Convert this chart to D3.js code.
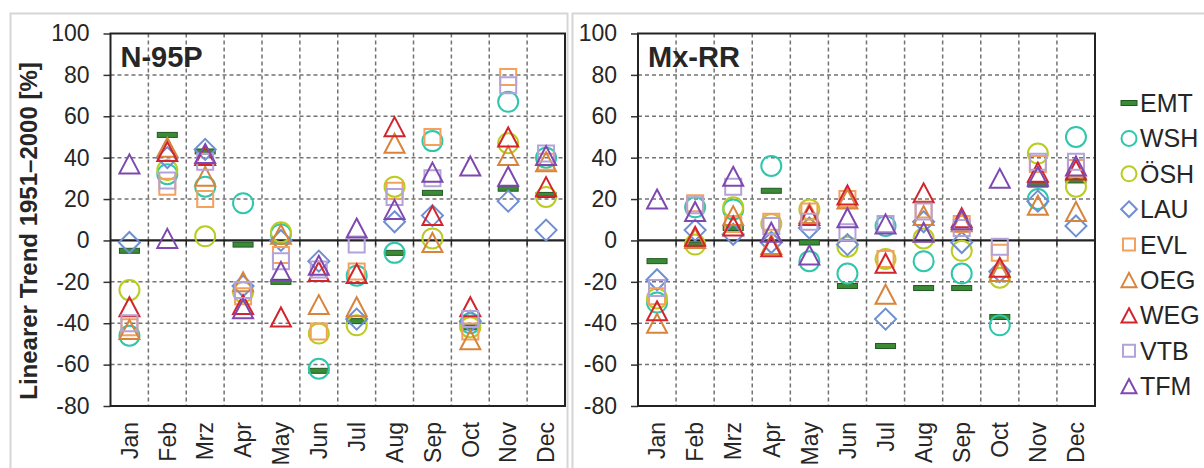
<!DOCTYPE html>
<html>
<head>
<meta charset="utf-8">
<script src="https://cdn.jsdelivr.net/npm/d3@7"></script>
<style>
  body { margin: 0; background: #fff; }
  svg { display: block; }
  text { font-family: "Liberation Sans", Arial, sans-serif; fill: #262626; }
</style>
</head>
<body>
<svg id="chart" width="1204" height="468"></svg>
<script>
// Month categories and y-axis ticks
const months = ["Jan", "Feb", "Mrz", "Apr", "May", "Jun", "Jul", "Aug", "Sep", "Oct", "Nov", "Dec"];
const yTicks = [-80, -60, -40, -20, 0, 20, 40, 60, 80, 100];

// Station series (legend order)
const seriesNames  = ["EMT", "WSH", "ÖSH", "LAU", "EVL", "OEG", "WEG", "VTB", "TFM"];
const seriesColors = ["#3b8a35", "#2fc6aa", "#b9cc22", "#6f8fd2", "#f4a15e", "#d8843c", "#d3242c", "#b3a3d8", "#7f48b0"];
const seriesShapes = ["dash", "circle", "circle", "diamond", "square", "triangle", "triangle", "square", "triangle"];

// N-95P: linear trend 1951-2000 [%] per month
const n95pEMT = [-5, 51, 43, -2, -20, -63, -39, -6, 23, -42, 25, 22];
const n95pWSH = [-46, 32, 26, 18, 3, -62, -17, -6, 48, -40, 67, 40];
const n95pOSH = [-24, 34, 2, -25, 4, -45, -41, 26, 1, -42, 47, 21];
const n95pLAU = [-1, 40, 44, -22, 0, -10, -38, 9, 12, -39, 19, 5];
const n95pEVL = [-42, 26, 20, -27, -7, -44, -15, 24, 50, -44, 79, 38];
const n95pOEG = [-43, 45, 31, -20, 3, -31, -32, 47, -1, -48, 41, 38];
const n95pWEG = [-32, 43, 41, -31, -37, -15, -16, 55, 12, -32, 50, 26];
const n95pVTB = [-40, 29, 38, -24, -10, -14, -2, 21, 30, -38, 75, 42];
const n95pTFM = [37, 1, 42, -33, -15, -12, 6, 15, 33, 36, 31, 41];

// Mx-RR: linear trend 1951-2000 [%] per month
const mxrrEMT = [-10, -2, 6, 24, -1, -22, -51, -23, -23, -37, 27, 29];
const mxrrWSH = [-30, 16, 15, 36, -10, -16, 7, -10, -16, -41, 20, 50];
const mxrrOSH = [-28, -2, 16, 8, 15, -3, -9, 1, -5, -18, 42, 26];
const mxrrLAU = [-19, 5, 3, -1, 6, -2, -38, 9, -1, -15, 19, 7];
const mxrrEVL = [-27, 18, 8, 9, 14, 20, -9, 15, 8, -6, 37, 35];
const mxrrOEG = [-40, 1, 12, -2, 13, 20, -26, 12, 9, -15, 17, 14];
const mxrrWEG = [-34, 2, 7, -3, 12, 22, -11, 23, 11, -13, 33, 34];
const mxrrVTB = [-23, 17, 26, 7, 9, 4, 8, 14, 6, -3, 38, 38];
const mxrrTFM = [20, 14, 31, 4, -7, 11, 8, 4, 10, 30, 31, 36];

const panels = [
  { title: "N-95P", left: 110.5, right: 565,
    series: [n95pEMT, n95pWSH, n95pOSH, n95pLAU, n95pEVL, n95pOEG, n95pWEG, n95pVTB, n95pTFM] },
  { title: "Mx-RR", left: 638, right: 1095,
    series: [mxrrEMT, mxrrWSH, mxrrOSH, mxrrLAU, mxrrEVL, mxrrOEG, mxrrWEG, mxrrVTB, mxrrTFM] }
];

const plotTop = 33.5, plotBottom = 406;
const svg = d3.select("#chart");

// Chart-area frames
svg.append("rect").attr("x", 10.5).attr("y", 13.5).attr("width", 557).attr("height", 480)
  .attr("fill", "none").attr("stroke", "#d6d6d6").attr("stroke-width", 2);
svg.append("rect").attr("x", 572.5).attr("y", 13.5).attr("width", 700).attr("height", 480)
  .attr("fill", "none").attr("stroke", "#d6d6d6").attr("stroke-width", 2);

// Marker outline paths, centred on (0,0)
function markerPath(shape, k) {
  const p = d3.path();
  if (shape === "circle") {
    const r = 10 * k; p.moveTo(r, 0); p.arc(0, 0, r, 0, 2 * Math.PI);
  } else if (shape === "square") {
    const h = 8 * k; p.rect(-h, -h, 2 * h, 2 * h);
  } else if (shape === "diamond") {
    const h = 10.5 * k; p.moveTo(0, -h); p.lineTo(h, 0); p.lineTo(0, h); p.lineTo(-h, 0); p.closePath();
  } else if (shape === "triangle") {
    const w = 10 * k, h = 9.5 * k; p.moveTo(0, -h); p.lineTo(w, h); p.lineTo(-w, h); p.closePath();
  }
  return p.toString();
}

function drawMarker(g, shape, color, k) {
  if (shape === "dash") {
    g.append("rect").attr("x", -10 * k).attr("y", -2.5).attr("width", 20 * k).attr("height", 5)
      .attr("fill", color).attr("stroke", "#1f5a22").attr("stroke-width", 1);
  } else {
    g.append("path").attr("d", markerPath(shape, k))
      .attr("fill", "none").attr("stroke", color).attr("stroke-width", 2);
  }
}

panels.forEach(pn => {
  const x = d3.scaleBand().domain(months).range([pn.left, pn.right]).paddingInner(0).paddingOuter(0);
  const y = d3.scaleLinear().domain([-80, 100]).range([plotBottom, plotTop]);
  const g = svg.append("g");

  // Horizontal grid
  g.selectAll(".hgrid").data(yTicks.filter(v => v !== 0 && v !== -80 && v !== 100)).join("line")
    .attr("x1", pn.left).attr("x2", pn.right).attr("y1", d => y(d)).attr("y2", d => y(d))
    .attr("stroke", "#737373").attr("stroke-width", 1.5).attr("stroke-dasharray", "4,3");

  // Vertical grid at month boundaries
  const bounds = months.slice(1).map(m => x(m));
  g.selectAll(".vgrid").data(bounds).join("line")
    .attr("x1", d => d).attr("x2", d => d).attr("y1", plotTop).attr("y2", plotBottom)
    .attr("stroke", "#737373").attr("stroke-width", 1.5).attr("stroke-dasharray", "4,3");

  // Y axis ticks and labels (plain hyphen for negatives)
  const yAxis = d3.axisLeft(y).tickValues(yTicks).tickSize(7).tickPadding(14)
    .tickFormat(d => String(d));
  const ya = g.append("g").attr("transform", `translate(${pn.left},0)`).call(yAxis);
  ya.select(".domain").remove();
  ya.selectAll(".tick line").attr("stroke", "#333").attr("stroke-width", 1.5);
  ya.selectAll(".tick text").attr("font-size", 23).attr("fill", "#262626")
    .style("font-family", "'Liberation Sans', Arial, sans-serif");

  // Zero line with month-boundary ticks
  g.append("line").attr("x1", pn.left).attr("x2", pn.right).attr("y1", y(0)).attr("y2", y(0))
    .attr("stroke", "#222").attr("stroke-width", 2.2);
  g.selectAll(".zt").data(bounds).join("line")
    .attr("x1", d => d).attr("x2", d => d).attr("y1", y(0)).attr("y2", y(0) + 5)
    .attr("stroke", "#222").attr("stroke-width", 1.5);

  // Plot border
  g.append("rect").attr("x", pn.left).attr("y", plotTop)
    .attr("width", pn.right - pn.left).attr("height", plotBottom - plotTop)
    .attr("fill", "none").attr("stroke", "#222").attr("stroke-width", 2);

  // Month labels (rotated)
  g.selectAll(".mlab").data(months).join("text")
    .attr("transform", d => `translate(${x(d) + x.bandwidth() / 2},422) rotate(-90)`)
    .attr("text-anchor", "end").attr("dy", "0.36em").attr("font-size", 23)
    .text(d => d);

  // Panel title
  g.append("text").attr("x", pn.left + 10).attr("y", 67)
    .attr("font-size", 29).attr("font-weight", "bold").attr("fill", "#111").text(pn.title);

  // Markers, one series after the other
  pn.series.forEach((vals, si) => {
    vals.forEach((v, mi) => {
      const mg = g.append("g")
        .attr("transform", `translate(${x(months[mi]) + x.bandwidth() / 2},${y(v)})`);
      drawMarker(mg, seriesShapes[si], seriesColors[si], 1);
    });
  });
});

// Y axis title
svg.append("text")
  .attr("transform", "translate(28,231) rotate(-90)")
  .attr("text-anchor", "middle").attr("dy", "0.36em")
  .attr("font-size", 24).attr("font-weight", "bold").attr("fill", "#1a1a1a")
  .text("Linearer Trend 1951\u20132000 [%]");

// Legend
const legend = svg.append("g");
seriesNames.forEach((name, i) => {
  const cy = 103 + i * 35.4;
  const lg = legend.append("g").attr("transform", `translate(1129,${cy})`);
  drawMarker(lg, seriesShapes[i], seriesColors[i], seriesShapes[i] === "dash" ? 0.8 : 0.75);
  legend.append("text").attr("x", 1140).attr("y", cy).attr("dy", "0.36em")
    .attr("font-size", 25).text(name);
});
</script>
</body>
</html>
